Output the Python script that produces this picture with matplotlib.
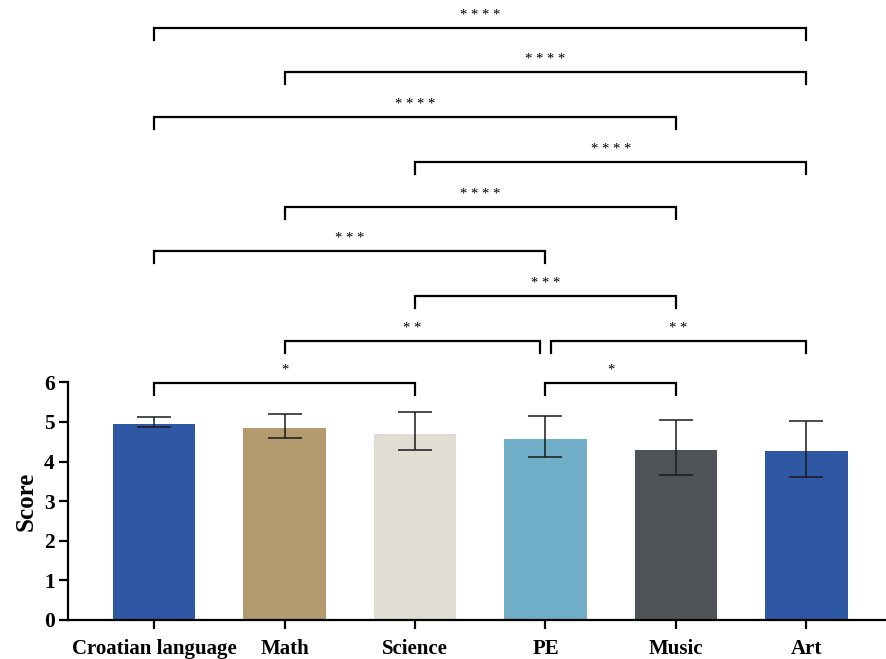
import numpy as np
import matplotlib.pyplot as plt

plt.rcParams['font.family'] = 'Liberation Serif'

# data
subjects = ["Croatian language", "Math", "Science", "PE", "Music", "Art"]
means = [4.94, 4.84, 4.69, 4.58, 4.29, 4.26]
err_upper = [5.12, 5.21, 5.24, 5.15, 5.06, 5.02]
err_lower = [4.87, 4.59, 4.29, 4.11, 3.67, 3.60]
colors = ['#2E58A3', '#B49B6F', '#E1DDD3', '#70AEC8', '#4F5358', '#2E58A3']

# significance comparisons: (i, j, bracket height, label)
pairs = [(0, 5, 14.95, '* * * *'),
         (1, 5, 13.84, '* * * *'),
         (0, 4, 12.70, '* * * *'),
         (2, 5, 11.57, '* * * *'),
         (1, 4, 10.43, '* * * *'),
         (0, 3, 9.32, '* * *'),
         (2, 4, 8.18, '* * *'),
         (1, 3, 7.05, '* *'),
         (3, 5, 7.05, '* *'),
         (0, 2, 5.99, '*'),
         (3, 4, 5.99, '*')]

fig = plt.figure(figsize=(8.86, 6.59), dpi=100)
ax = fig.add_axes([0.0767, 0.0592, 0.9233, 0.9316])

x = np.arange(len(subjects))
ax.bar(x, means, width=0.63, color=colors, edgecolor='none', zorder=2)
yerr = [np.array(means) - np.array(err_lower), np.array(err_upper) - np.array(means)]
ax.errorbar(x, means, yerr=yerr, fmt='none', ecolor='#1a1a1a', elinewidth=1.1,
            capsize=11.9, capthick=1.1, zorder=3)

leg = 0.3
for i, j, h, lab in pairs:
    xi, xj = x[i], x[j]
    # shared-end brackets leave a small gap
    if (i, j) == (1, 3):
        xj -= 0.04
    if (i, j) == (3, 5):
        xi += 0.04
    ax.plot([xi, xi, xj, xj], [h - leg, h, h, h - leg], color='black', lw=1.6,
            solid_joinstyle='miter', clip_on=False)
    ax.text((xi + xj) / 2, h + 0.15, lab, ha='center', va='bottom', fontsize=10.5)

ax.set_xlim(-0.66, 5.61)
ax.set_ylim(0, 15.5)
ax.set_yticks(range(0, 7))
ax.set_xticks(x)
ax.set_xticklabels(subjects, fontweight='bold', fontsize=15)
for t in ax.get_yticklabels():
    t.set_fontweight('bold')
    t.set_fontsize(15.5)
ax.set_ylabel('Score', fontsize=18, fontweight='bold')
ax.yaxis.set_label_coords(-0.037, 3.0 / 15.5)

ax.spines['top'].set_visible(False)
ax.spines['right'].set_visible(False)
ax.spines['left'].set_bounds(0, 6)
ax.spines['left'].set_linewidth(1.6)
ax.spines['bottom'].set_linewidth(1.6)
ax.tick_params(axis='both', width=1.6, length=6.5)
ax.tick_params(axis='x', pad=7)
ax.tick_params(axis='y', pad=3)

plt.savefig('out.png', dpi=100)
